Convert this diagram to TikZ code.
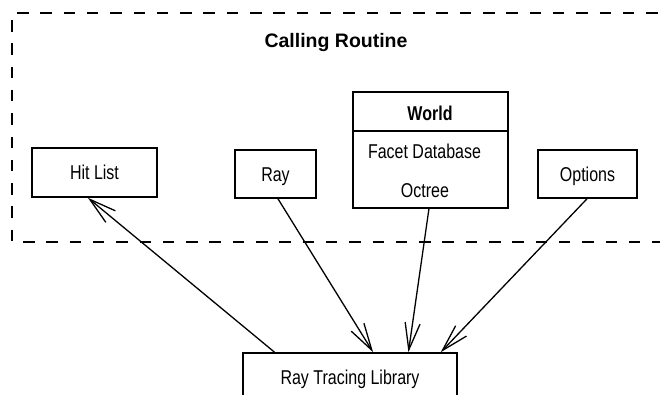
\documentclass[tikz,border=0pt]{standalone}
\usepackage{fontspec}
\setmainfont{Liberation Sans}
\newfontfamily\narrowfont{Liberation Sans}[FakeStretch=0.8]
\usetikzlibrary{arrows.meta,calc}
\begin{document}
\begin{tikzpicture}[x=1pt,y=-1pt,
  box/.style={draw,line width=1.6pt,inner sep=0pt,font=\narrowfont\fontsize{20}{24}\selectfont,text height=14.3pt,text depth=0pt},
  lbl/.style={inner sep=0pt,font=\narrowfont\fontsize{20}{24}\selectfont,anchor=base},
  border/.style={line width=2pt,dash pattern=on 11.5pt off 11.8pt},
  conn/.style={line width=1.3pt,-{Straight Barb[length=27pt,width=15pt,line width=1.3pt]}}]
\useasboundingbox (0,0) rectangle (660,394);
% dashed calling-routine frame
\draw[border] (17,13) -- (660,13);
\draw[border] (12,20) -- (12,241);
\draw[border] (23,242) -- (660,242);
\node[inner sep=0pt,anchor=base,font=\bfseries\fontsize{19.5}{23}\selectfont] (title) at (336,47) {Calling Routine};
% boxes
\node[box,minimum width=125pt,minimum height=49pt] (hit) at (94.5,172.5) {Hit List};
\node[box,minimum width=81pt,minimum height=48pt] (ray) at (275.5,174) {Ray};
\node[box,minimum width=99pt,minimum height=48pt] (opt) at (587.5,174) {Options};
\node[box,minimum width=155pt,minimum height=116pt] (world) at (430.5,150) {};
\draw[line width=1.6pt] (world.west |- 0,131) -- (world.east |- 0,131);
\node[lbl,font=\narrowfont\bfseries\fontsize{20}{24}\selectfont] (wt) at (430,120) {World};
\node[lbl] (facet) at (424.5,158) {Facet Database};
\node[lbl] (oct) at (425,197) {Octree};
\node[box,minimum width=214pt,minimum height=49pt] (rtl) at (350,377.5) {Ray Tracing Library};
% connectors
\draw[conn] ($(rtl.north west)!0.15!(rtl.north east)$) -- ($(hit.south west)!0.448!(hit.south east)$);
\draw[conn] ($(ray.south west)!0.53!(ray.south east)$) -- ($(rtl.north west)!0.607!(rtl.north east)$);
\draw[conn] ($(world.south west)!0.49!(world.south east)$) -- ($(rtl.north west)!0.771!(rtl.north east)$);
\draw[conn] ($(opt.south west)!0.495!(opt.south east)$) -- ($(rtl.north west)!0.921!(rtl.north east)$);
\end{tikzpicture}
\end{document}
